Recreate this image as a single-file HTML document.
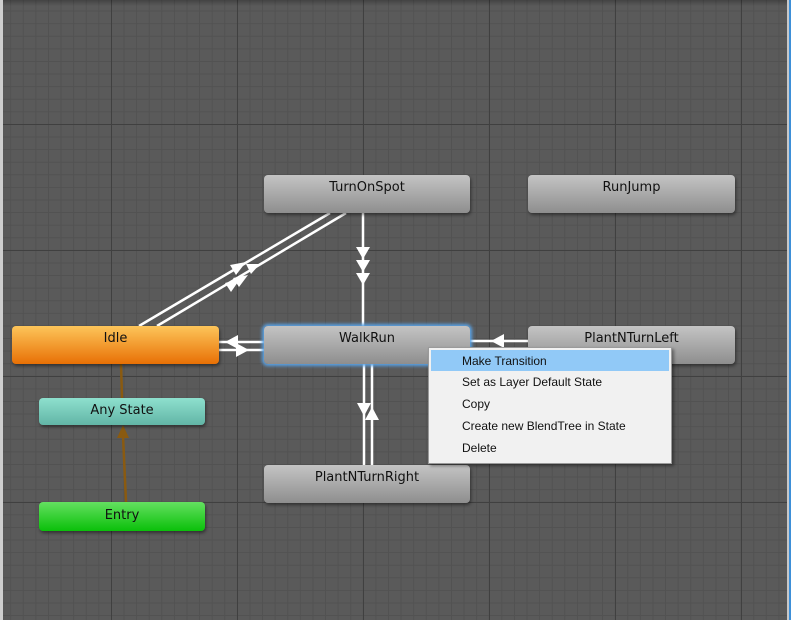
<!DOCTYPE html>
<html><head><style>
html,body{margin:0;padding:0}
body{width:791px;height:620px;overflow:hidden;position:relative;background:#5a5a5a;font-family:"DejaVu Sans","Liberation Sans",sans-serif;}
.grid{position:absolute;left:0;top:0;width:791px;height:620px;
background-image:
linear-gradient(to right,#404040 1px,transparent 1px),
linear-gradient(to bottom,#404040 1px,transparent 1px),
linear-gradient(to right,#525252 1px,transparent 1px),
linear-gradient(to bottom,#525252 1px,transparent 1px);
background-size:126px 126px,126px 126px,12.6px 12.6px,12.6px 12.6px;
background-position:111px 124px,111px 124px,10.2px 10.6px,10.2px 10.6px;}
.node{position:absolute;border-radius:4px;font-size:13px;color:#111;text-align:center;line-height:26px;box-shadow:1px 2px 3px rgba(0,0,0,.45);}
.gray{background:linear-gradient(#c4c4c4,#8e8e8e);}
.menu{position:absolute;left:428px;top:347px;width:242px;height:115px;background:#f1f1f1;border:1px solid #9a9a9a;box-shadow:2px 2px 3px rgba(0,0,0,.4);font-family:"Liberation Sans",sans-serif;font-size:12px;color:#111;}
.menu div{height:22px;line-height:22px;padding-left:33px;}
.menu .sel{background:#91c9f7;margin:2px 2px 0 2px;padding-left:31px;height:21px;}
</style></head><body>
<div class="grid"></div>
<div style="position:absolute;left:0;top:0;width:791px;height:6px;background:linear-gradient(rgba(0,0,0,.25),rgba(0,0,0,0))"></div>
<div style="position:absolute;left:0;top:0;width:3px;height:620px;background:#cfcfcf"></div>
<div style="position:absolute;left:787px;top:0;width:2px;height:620px;background:#c8c8c8"></div>
<div style="position:absolute;left:789px;top:0;width:2px;height:620px;background:#3d8fd8"></div>
<svg width="791" height="620" style="position:absolute;left:0;top:0">
<g stroke="#fff" stroke-width="2.5" fill="none">
<line x1="139" y1="326" x2="330" y2="213"/>
<line x1="157" y1="326" x2="346" y2="213"/>
<line x1="363" y1="213" x2="363" y2="326"/>
<line x1="219" y1="342" x2="264" y2="342"/>
<line x1="219" y1="350" x2="264" y2="350"/>
<line x1="470" y1="341" x2="528" y2="341"/>
<line x1="470" y1="349" x2="528" y2="349"/>
<line x1="364" y1="364" x2="364" y2="465"/>
<line x1="372" y1="364" x2="372" y2="465"/>
</g>
<g fill="#fff">
<polygon points="230,265 246,262 236,275"/>
<polygon points="246,264 260,264 251,274"/>
<polygon points="233,278 248,275 239,287"/>
<polygon points="225,283 240,279 231,292"/>
<polygon points="356,247 370,247 363,259"/>
<polygon points="356,260 370,260 363,272"/>
<polygon points="356,273 370,273 363,285"/>
<polygon points="225,342 238,335 238,349"/>
<polygon points="249,350 236,343 236,357"/>
<polygon points="491,341 504,334 504,348"/>
<polygon points="357,403 371,403 364,416"/>
<polygon points="365,420 379,420 372,407"/>
</g>
<g stroke="#8a5a10" stroke-width="2.5">
<line x1="121" y1="364" x2="122" y2="398"/>
<line x1="126" y1="502" x2="123" y2="436"/>
</g>
<polygon points="117,438 129,438 123,425" fill="#8a5a10"/>
</svg>
<div class="node gray" style="left:264px;top:175px;width:206px;height:38px">TurnOnSpot</div>
<div class="node gray" style="left:528px;top:175px;width:207px;height:38px">RunJump</div>
<div class="node" style="left:12px;top:326px;width:207px;height:38px;background:linear-gradient(#fdc55a,#e87005)">Idle</div>
<div class="node gray" style="left:264px;top:326px;width:206px;height:38px;box-shadow:0 0 3px 2px #5aa3e6">WalkRun</div>
<div class="node gray" style="left:528px;top:326px;width:207px;height:38px">PlantNTurnLeft</div>
<div class="node" style="left:39px;top:398px;width:166px;height:27px;background:linear-gradient(#8ee0ce,#62b5a6)">Any State</div>
<div class="node" style="left:39px;top:502px;width:166px;height:29px;line-height:27px;background:linear-gradient(#64e060,#0ac00a)">Entry</div>
<div class="node gray" style="left:264px;top:465px;width:206px;height:38px">PlantNTurnRight</div>
<div class="menu">
<div class="sel">Make Transition</div>
<div>Set as Layer Default State</div>
<div>Copy</div>
<div>Create new BlendTree in State</div>
<div>Delete</div>
</div>
</body></html>
